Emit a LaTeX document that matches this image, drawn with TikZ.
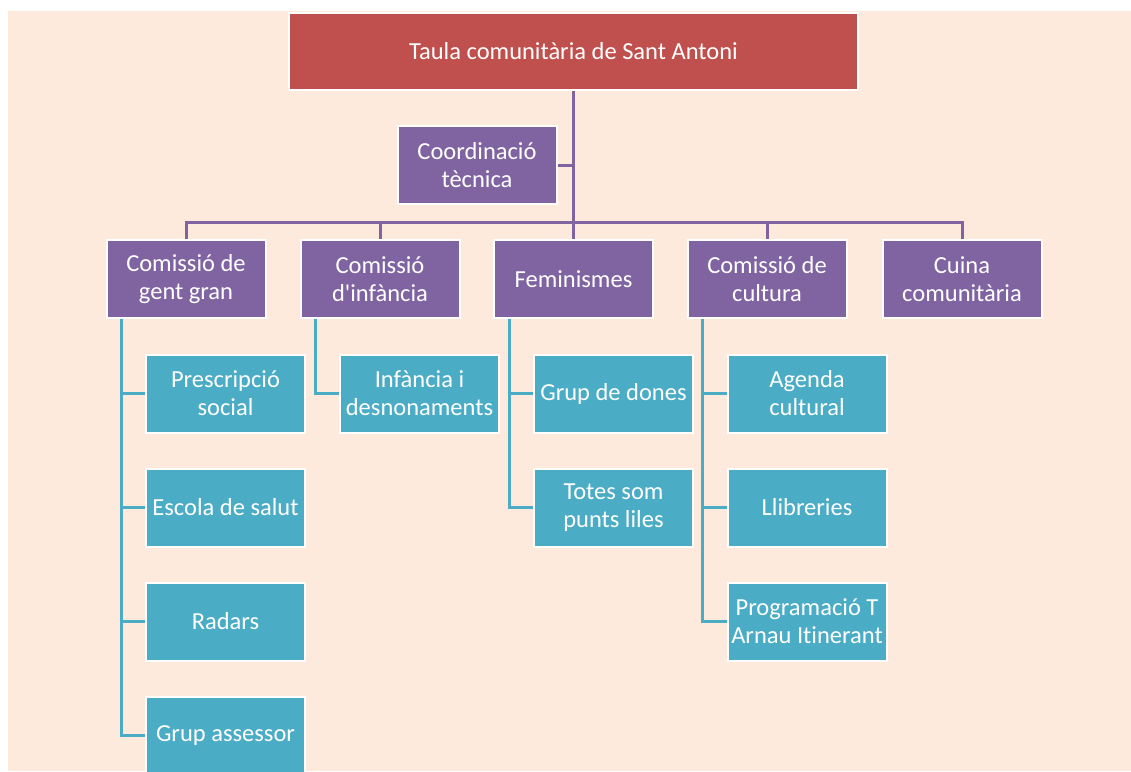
\documentclass[tikz,border=0pt]{standalone}
\usepackage{fontspec}
\setmainfont[Ligatures=NoCommon]{Carlito}
\definecolor{peach}{RGB}{253,234,220}
\definecolor{redbox}{RGB}{192,80,77}
\definecolor{purplebox}{RGB}{128,100,162}
\definecolor{tealbox}{RGB}{75,172,198}
\begin{document}
\begin{tikzpicture}[x=1pt,y=-1pt,
  basebox/.style={rectangle, draw=white, line width=2pt, text=white, align=center,
    font=\fontsize{24.5}{28}\selectfont, inner sep=2pt},
  topbox/.style={basebox, fill=redbox, minimum width=569pt, minimum height=77pt},
  combox/.style={basebox, fill=purplebox, minimum width=159pt, minimum height=78pt},
  subbox/.style={basebox, fill=tealbox, minimum width=159pt, minimum height=78pt},
  plink/.style={draw=purplebox, line width=3pt},
  tlink/.style={draw=tealbox, line width=3pt}]
\useasboundingbox (0,0) rectangle (1131,771);
\clip (0,0) rectangle (1131,771);
\fill[white] (0,0) rectangle (1131,771);
\fill[peach] (8,11) rectangle (1131,771);

\node[topbox] (taula) at (573.5,51.5) {Taula comunitària de Sant Antoni};
\node[combox] (coord) at (477,165) {Coordinació\\tècnica};

\node[combox] (gg) at (186,279) {Comissió de\\gent gran};
\node[combox] (inf) at (380,279) {Comissió\\d\textquotesingle infància};
\node[combox] (fem) at (573.5,279) {Feminismes};
\node[combox] (cult) at (767,279) {Comissió de\\cultura};
\node[combox] (cuina) at (962,279) {Cuina\\comunitària};

\node[subbox] (pres) at (225.5,393.5) {Prescripció\\social};
\node[subbox] (esc) at (225.5,507.5) {Escola de salut};
\node[subbox] (rad) at (225.5,621.5) {Radars};
\node[subbox] (ases) at (225.5,735.5) {Grup assessor};

\node[subbox] (desn) at (419.5,393.5) {Infància i\\desnonaments};

\node[subbox] (dones) at (613.5,393.5) {Grup de dones};
\node[subbox] (liles) at (613.5,507.5) {Totes som\\punts liles};

\node[subbox] (agenda) at (807,393.5) {Agenda\\cultural};
\node[subbox] (llib) at (807,507.5) {Llibreries};
\node[subbox] (arnau) at (807,621.5) {Programació T\\Arnau Itinerant};

\coordinate (bus) at (573.5,222);
\draw[plink] (taula.south) -- (bus);
\draw[plink] (coord.east) -- (coord.east -| taula.south);
\draw[plink] (bus) -| (gg.north);
\draw[plink] (bus) -| (inf.north);
\draw[plink] (bus) -- (fem.north);
\draw[plink] (bus) -| (cult.north);
\draw[plink] (bus) -| (cuina.north);

\draw[tlink] ([xshift=16pt]gg.south west) |- (pres.west);
\draw[tlink] ([xshift=16pt]gg.south west) |- (esc.west);
\draw[tlink] ([xshift=16pt]gg.south west) |- (rad.west);
\draw[tlink] ([xshift=16pt]gg.south west) |- (ases.west);
\draw[tlink] ([xshift=16pt]inf.south west) |- (desn.west);
\draw[tlink] ([xshift=16pt]fem.south west) |- (dones.west);
\draw[tlink] ([xshift=16pt]fem.south west) |- (liles.west);
\draw[tlink] ([xshift=16pt]cult.south west) |- (agenda.west);
\draw[tlink] ([xshift=16pt]cult.south west) |- (llib.west);
\draw[tlink] ([xshift=16pt]cult.south west) |- (arnau.west);
\end{tikzpicture}
\end{document}
